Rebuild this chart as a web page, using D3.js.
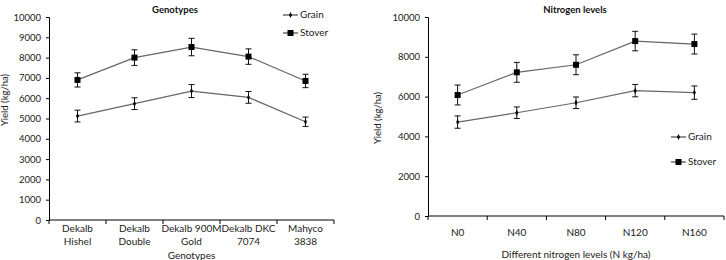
<!DOCTYPE html>
<html>
<head>
<meta charset="utf-8">
<script src="https://cdn.jsdelivr.net/npm/d3@7"></script>
<style>
   body { margin: 0; background: #fff; }
   svg { display: block; font-family: Lato, "Open Sans", sans-serif; }
</style>
</head>
<body>
<svg id="chart" width="726" height="260"></svg>
<script>

// GENOTYPE PANEL DATA
var genotypes = [['Dekalb', 'Hishel'], ['Dekalb', 'Double'], ['Dekalb 900M', 'Gold'], ['Dekalb DKC', '7074'], ['Mahyco', '3838']];
var genoGrain = [5120, 5730, 6350, 6040, 4840];
var genoGrainErr = [290, 290, 320, 290, 230];
var genoStover = [6900, 8000, 8520, 8050, 6850];
var genoStoverErr = [350, 385, 430, 380, 330];
var genoTicks = [0, 1000, 2000, 3000, 4000, 5000, 6000, 7000, 8000, 9000, 10000];

// NITROGEN PANEL DATA
var nitrogen = ['N0', 'N40', 'N80', 'N120', 'N160'];
var nitroGrain = [4720, 5190, 5690, 6300, 6200];
var nitroGrainErr = [310, 290, 290, 310, 335];
var nitroStover = [6080, 7220, 7600, 8790, 8640];
var nitroStoverErr = [500, 500, 500, 490, 500];
var nitroTicks = [0, 2000, 4000, 6000, 8000, 10000];

var svg = d3.select('#chart');

// DRAW ONE PANEL
function panel(opt) {

   // X-SCALING
   var xScale = d3.scaleBand()
      .domain(d3.range(opt.cats.length))
      .range([opt.x0, opt.x1])

   // Y-SCALING
   var yScale = d3.scaleLinear()
      .domain([0, 10000])
      .range([opt.y0, opt.y1])

   var g = svg.append('g');

   // Y-AXIS TITLE (DRAWN FIRST, TICK LABELS SIT ON TOP)
   g.append('text')
      .attr('transform', 'translate(' + opt.yTitleX + ',' + opt.yTitleY + ') rotate(-90)')
      .attr('text-anchor', 'middle')
      .attr('font-size', 9.5)
      .attr('fill', '#222')
      .text('Yield (kg/ha)')

   // Y-AXIS
   var yAxis = g.append('g')
      .attr('transform', 'translate(' + opt.x0 + ',0)')
      .call(d3.axisLeft(yScale).tickValues(opt.ticks).tickSize(3).tickPadding(5).tickFormat(d3.format('d')))
   yAxis.selectAll('text').attr('font-size', 9.5).attr('fill', '#222').attr('font-family', 'Lato, sans-serif')

   // X-AXIS (TICKS ON CATEGORY BOUNDARIES)
   var xAxis = g.append('g')
      .attr('transform', 'translate(0,' + opt.y0 + ')')
   xAxis.append('line')
      .attr('x1', opt.x0).attr('x2', opt.x1)
      .attr('stroke', '#000')
   xAxis.selectAll('.bt')
      .data(d3.range(opt.cats.length + 1))
         .enter().append('line')
            .attr('x1', (d) => { return opt.x0 + d * xScale.bandwidth() })
            .attr('x2', (d) => { return opt.x0 + d * xScale.bandwidth() })
            .attr('y1', 0).attr('y2', 4)
            .attr('stroke', '#000')

   // CATEGORY LABELS
   var lab = g.selectAll('.lab')
      .data(opt.cats)
         .enter().append('text')
            .attr('class', 'lab')
            .attr('x', (d, i) => { return xScale(i) + xScale.bandwidth() / 2 })
            .attr('y', opt.labY)
            .attr('text-anchor', 'middle')
            .attr('font-size', 10)
            .attr('fill', '#222')
   lab.each(function(d) {
      var lines = Array.isArray(d) ? d : [d];
      var x = d3.select(this).attr('x');
      d3.select(this).selectAll('tspan')
         .data(lines)
            .enter().append('tspan')
               .attr('x', x)
               .attr('dy', (l, k) => { return k ? 13 : 0 })
               .text((l) => { return l })
   })

   // X-AXIS TITLE
   g.append('text')
      .attr('x', (opt.x0 + opt.x1) / 2)
      .attr('y', opt.xTitleY)
      .attr('text-anchor', 'middle')
      .attr('font-size', 10)
      .attr('fill', '#222')
      .text(opt.xTitle)

   // PANEL TITLE
   g.append('text')
      .attr('x', opt.titleX)
      .attr('y', 13)
      .attr('text-anchor', 'middle')
      .attr('font-size', 9.5)
      .attr('font-weight', 'bold')
      .attr('fill', '#111')
      .text(opt.title)

   // SERIES
   var series = [
      { vals: opt.grain, err: opt.grainErr, mark: 'grain' },
      { vals: opt.stover, err: opt.stoverErr, mark: 'stover' }
   ];

   series.forEach(s => {
      var cx = (d, i) => { return xScale(i) + xScale.bandwidth() / 2 };

      // GENERATE LINE
      g.append('path')
         .attr('fill', 'none')
         .attr('stroke', '#666')
         .attr('stroke-width', 1.2)
         .attr('d', d3.line().x(cx).y((d) => { return yScale(d) })(s.vals))

      // ERROR BARS
      var eb = g.selectAll(null)
         .data(s.vals)
            .enter().append('g')
      eb.append('line')
         .attr('x1', cx).attr('x2', cx)
         .attr('y1', (d, i) => { return yScale(d + s.err[i]) })
         .attr('y2', (d, i) => { return yScale(d - s.err[i]) })
         .attr('stroke', '#111')
      ;[1, -1].forEach(sign => {
         eb.append('line')
            .attr('x1', (d, i) => { return cx(d, i) - 3 })
            .attr('x2', (d, i) => { return cx(d, i) + 3 })
            .attr('y1', (d, i) => { return yScale(d + sign * s.err[i]) })
            .attr('y2', (d, i) => { return yScale(d + sign * s.err[i]) })
            .attr('stroke', '#111')
      })

      // MARKERS
      drawMark(g, s.mark, s.vals.map((d, i) => { return [cx(d, i), yScale(d)] }))
   });

   // LEGEND
   var leg = g.append('g').attr('transform', 'translate(' + opt.legX + ',' + opt.legY + ')');
   ['grain', 'stover'].forEach((m, i) => {
      var yy = i * opt.legGap;
      leg.append('line')
         .attr('x1', 0).attr('x2', 15)
         .attr('y1', yy).attr('y2', yy)
         .attr('stroke', '#222')
      drawMark(leg, m, [[7.5, yy]])
      leg.append('text')
         .attr('x', 17)
         .attr('y', yy + 3)
         .attr('font-size', 10)
         .attr('fill', '#222')
         .text(m == 'grain' ? 'Grain' : 'Stover')
   });
}

// MARKER SHAPES
function drawMark(g, type, pts) {
   if (type == 'stover') {
      g.selectAll(null)
         .data(pts)
            .enter().append('rect')
               .attr('x', (d) => { return d[0] - 3 })
               .attr('y', (d) => { return d[1] - 3 })
               .attr('width', 6).attr('height', 6)
               .attr('fill', '#000')
   } else {
      g.selectAll(null)
         .data(pts)
            .enter().append('path')
               .attr('d', (d) => { return 'M' + d[0] + ',' + (d[1] - 3) + 'L' + (d[0] + 1.5) + ',' + d[1] + 'L' + d[0] + ',' + (d[1] + 3) + 'L' + (d[0] - 1.5) + ',' + d[1] + 'Z' })
               .attr('fill', '#000')
   }
}

panel({
   cats: genotypes, grain: genoGrain, grainErr: genoGrainErr,
   stover: genoStover, stoverErr: genoStoverErr, ticks: genoTicks,
   x0: 49, x1: 334, y0: 220, y1: 17, labY: 232,
   xTitle: 'Genotypes', xTitleY: 259, yTitleX: 8, yTitleY: 100,
   title: 'Genotypes', titleX: 175, legX: 283, legY: 15, legGap: 18
});

panel({
   cats: nitrogen, grain: nitroGrain, grainErr: nitroGrainErr,
   stover: nitroStover, stoverErr: nitroStoverErr, ticks: nitroTicks,
   x0: 428, x1: 724, y0: 216, y1: 17, labY: 236,
   xTitle: 'Different nitrogen levels (N kg/ha)', xTitleY: 258, yTitleX: 381, yTitleY: 118,
   title: 'Nitrogen levels', titleX: 575, legX: 671, legY: 137, legGap: 25
});

</script>
</body>
</html>
